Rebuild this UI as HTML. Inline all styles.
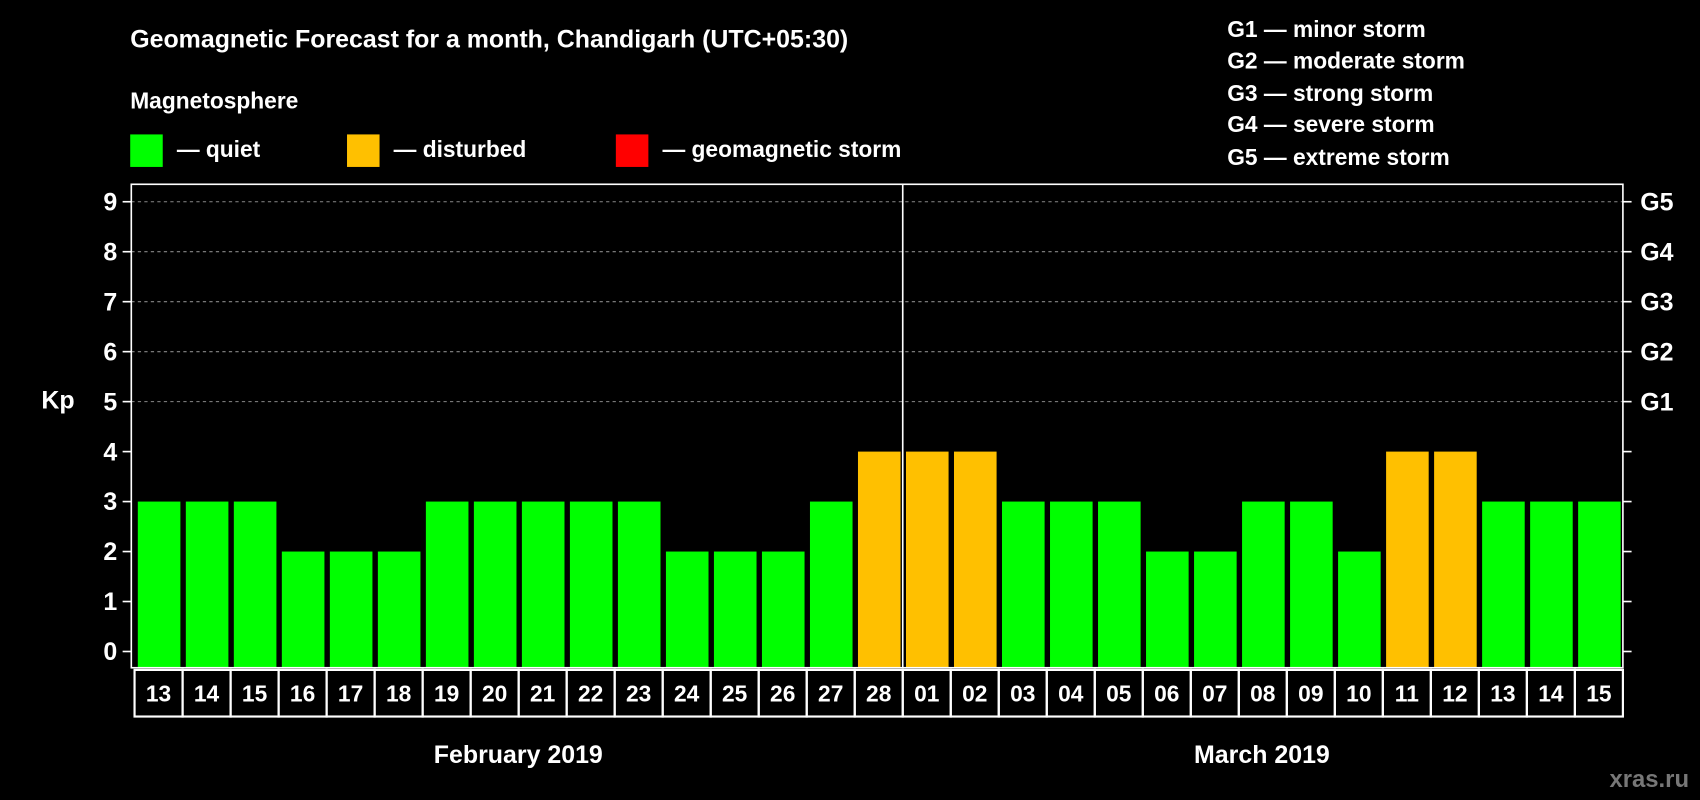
<!DOCTYPE html>
<html><head><meta charset="utf-8"><style>
html,body{margin:0;padding:0;background:#000;}
svg{display:block;font-family:"Liberation Sans",Arial,sans-serif;font-weight:bold;}
</style></head><body>
<svg id="chart" width="1700" height="800" viewBox="0 0 1568 738" xmlns="http://www.w3.org/2000/svg">
<rect width="1568" height="738" fill="#000"/>
<text x="120" y="44" fill="#fff" font-size="23">Geomagnetic Forecast for a month, Chandigarh (UTC+05:30)</text>
<text x="120" y="100" fill="#fff" font-size="21">Magnetosphere</text>
<g><rect x="120" y="124" width="30" height="30" fill="#00ff00"/><text x="163" y="145" fill="#fff" font-size="21">— quiet</text></g>
<g><rect x="320" y="124" width="30" height="30" fill="#ffc000"/><text x="363" y="145" fill="#fff" font-size="21">— disturbed</text></g>
<g><rect x="568" y="124" width="30" height="30" fill="#ff0000"/><text x="611" y="145" fill="#fff" font-size="21">— geomagnetic storm</text></g>
<g fill="#fff" font-size="21">
<text x="1132" y="34">G1 — minor storm</text>
<text x="1132" y="63">G2 — moderate storm</text>
<text x="1132" y="93">G3 — strong storm</text>
<text x="1132" y="122">G4 — severe storm</text>
<text x="1132" y="152">G5 — extreme storm</text>
</g>
<text x="38" y="377" fill="#fff" font-size="23">Kp</text>
<g id="grid"></g><g id="bars"></g><g id="axes"></g><g id="labels"></g>
<text x="478" y="704" fill="#fff" font-size="23" text-anchor="middle">February 2019</text>
<text x="1164" y="704" fill="#fff" font-size="23" text-anchor="middle">March 2019</text>
<text x="1558" y="726" fill="#777" font-size="22" text-anchor="end">xras.ru</text>
</svg>
<script>
const days=["13","14","15","16","17","18","19","20","21","22","23","24","25","26","27","28","01","02","03","04","05","06","07","08","09","10","11","12","13","14","15"];
const kpValues=[3,3,3,2,2,2,3,3,3,3,3,2,2,2,3,4,4,4,3,3,3,2,2,3,3,2,4,4,3,3,3];
const yTicks=[0,1,2,3,4,5,6,7,8,9];
const gLabels={5:"G1",6:"G2",7:"G3",8:"G4",9:"G5"};
const NS="http://www.w3.org/2000/svg";
const L=121,R=1497,T=170,B=616;
const y=v=>601-v*46.1;
const pitch=(R-L-3)/days.length;
const x0=i=>124+i*pitch;
function mk(p,tag,at){const e=document.createElementNS(NS,tag);for(const k in at)e.setAttribute(k,at[k]);p.appendChild(e);return e;}
const grid=document.getElementById('grid'),bars=document.getElementById('bars'),axes=document.getElementById('axes'),labels=document.getElementById('labels');
yTicks.forEach(v=>{
 if(v>=5){const g=mk(grid,'line',{x1:L,x2:R,y1:y(v),y2:y(v),stroke:'#888','stroke-dasharray':'3,3'});
 }
 const t1=mk(axes,'line',{x1:L-8,x2:L,y1:y(v),y2:y(v),stroke:'#fff','stroke-width':1.5});
 
 const t2=mk(axes,'line',{x1:R,x2:R+8,y1:y(v),y2:y(v),stroke:'#fff','stroke-width':1.5});
 
 const tl=mk(axes,'text',{x:L-13,y:y(v)+8,fill:'#fff','font-size':23,'text-anchor':'end'});tl.textContent=v;
 
 if(gLabels[v]){const gl=mk(axes,'text',{x:R+16,y:y(v)+8,fill:'#fff','font-size':23});gl.textContent=gLabels[v];
 }
});
kpValues.forEach((v,i)=>{
 const c=v>=5?'#ff0000':v>=4?'#ffc000':'#00ff00';
 const b=mk(bars,'rect',{x:x0(i)+3,y:y(v),width:pitch-5,height:B-y(v),fill:c});
 
 const bx=mk(labels,'rect',{x:x0(i),y:B+2,width:pitch,height:43,fill:'none',stroke:'#fff','stroke-width':2});
 
 const t=mk(labels,'text',{x:x0(i)+pitch/2,y:B+31,fill:'#fff','font-size':21,'text-anchor':'middle'});t.textContent=days[i];
 
});
const frame=mk(axes,'rect',{x:L,y:T,width:R-L,height:B-T,fill:'none',stroke:'#fff','stroke-width':1.5});

const div=mk(axes,'line',{x1:x0(16),x2:x0(16),y1:T,y2:B,stroke:'#fff','stroke-width':1.5});

</script>
</body></html>
